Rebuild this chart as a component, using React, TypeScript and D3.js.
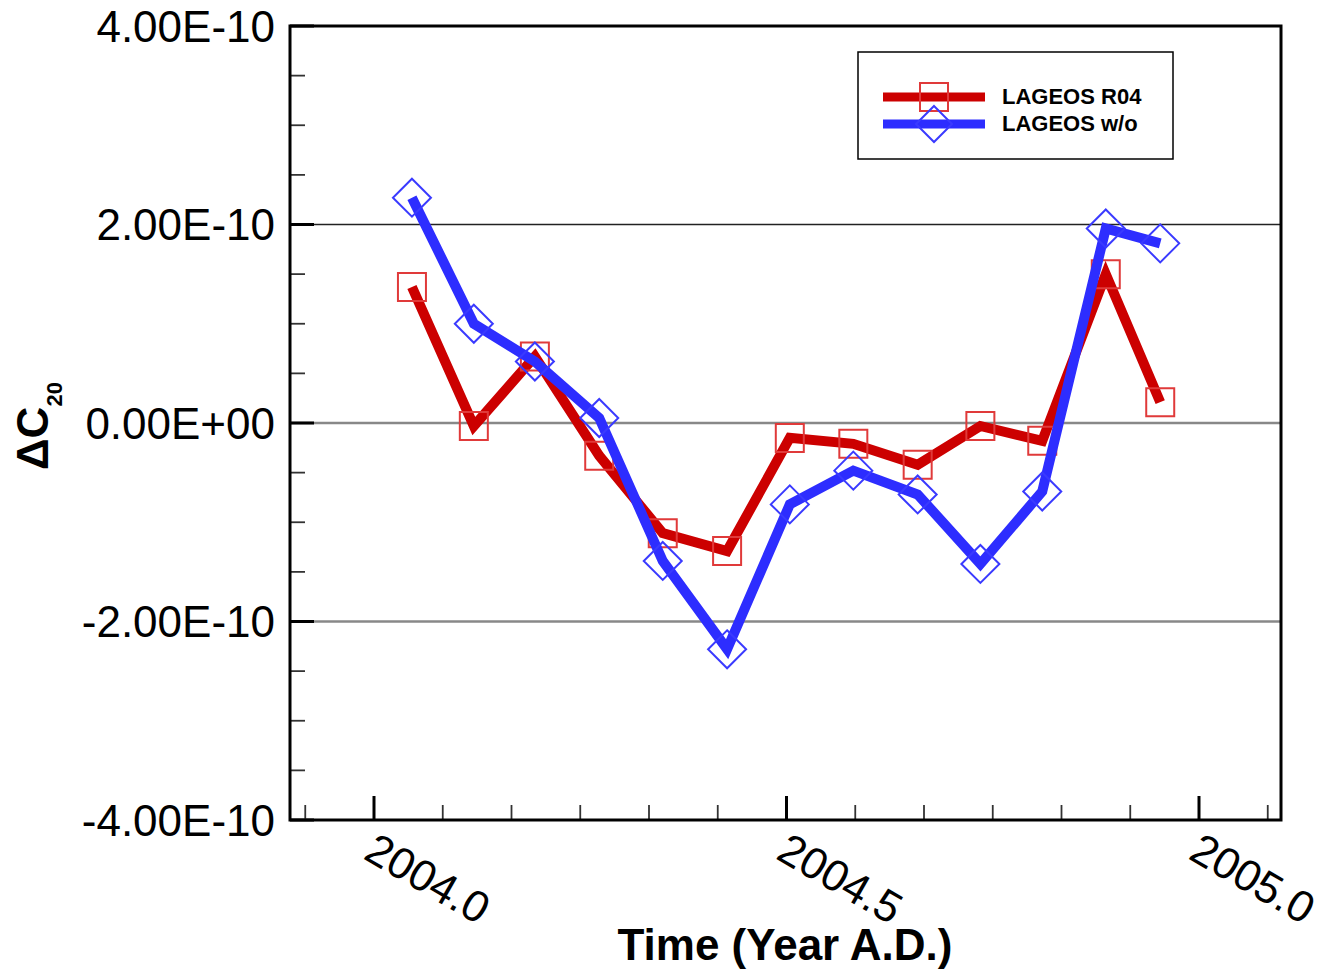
import React from "react";
import * as d3 from "d3";

const years = [2004.046, 2004.121, 2004.195, 2004.273, 2004.35, 2004.428, 2004.504, 2004.581, 2004.659, 2004.735, 2004.81, 2004.887, 2004.953];
const r04 = [1.37, -0.03, 0.67, -0.33, -1.11, -1.29, -0.15, -0.21, -0.42, -0.03, -0.18, 1.5, 0.21];
const wo = [2.27, 1.0, 0.62, 0.05, -1.39, -2.28, -0.82, -0.48, -0.72, -1.42, -0.69, 1.96, 1.81];
const yTicks = [4, 2, 0, -2, -4];
const yTickLabels = ["4.00E-10", "2.00E-10", "0.00E+00", "-2.00E-10", "-4.00E-10"];
const xTicks = [2004.0, 2004.5, 2005.0];
const xTickLabels = ["2004.0", "2004.5", "2005.0"];
const seriesNames = ["LAGEOS R04", "LAGEOS w/o"];

const FONT = "'Liberation Sans', Arial, Helvetica, sans-serif";
const RED = "#cc0000";
const BLUE = "#2d2dff";
const RED_M = "#e03a3a";
const BLUE_M = "#3a3aff";

export default function App() {
  const L = 290, R = 1281, T = 26, B = 820;
  const x = d3.scaleLinear().domain([2004.0, 2005.0]).range([374, 1199]);
  const y = d3.scaleLinear().domain([-4, 4]).range([B, T]);
  const line = d3.line<number>().x((_, i) => x(years[i])).y((d) => y(d));

  const minorX: number[] = [];
  for (let k = -1; k <= 13; k++) {
    const v = 2004 + k / 12;
    if (k % 6 === 0) continue;
    if (x(v) > L + 2 && x(v) < R - 2) minorX.push(v);
  }
  const minorY: number[] = [];
  for (let v = -3.5; v < 4; v += 0.5) {
    if (Math.abs(v % 2) > 1e-9) minorY.push(v);
  }

  const sq = (cx: number, cy: number, s: number) => `M${cx - s},${cy - s}h${2 * s}v${2 * s}h${-2 * s}Z`;
  const dm = (cx: number, cy: number, s: number) => `M${cx},${cy - s}L${cx + s},${cy}L${cx},${cy + s}L${cx - s},${cy}Z`;

  return (
    <svg width={1323} height={972} style={{ display: "block", position: "absolute", left: 0, top: 0, background: "#fff" }} fontFamily={FONT}>
      <rect x={0} y={0} width={1323} height={972} fill="#fff" />
      {/* gridlines */}
      <line x1={L} x2={R} y1={y(2)} y2={y(2)} stroke="#222" strokeWidth={1.5} />
      <line x1={L} x2={R} y1={y(0)} y2={y(0)} stroke="#888" strokeWidth={2.5} />
      <line x1={L} x2={R} y1={y(-2)} y2={y(-2)} stroke="#888" strokeWidth={2.5} />
      {/* y ticks */}
      {yTicks.map((v) => (
        <line key={"ym" + v} x1={L} x2={L + 24} y1={y(v)} y2={y(v)} stroke="#000" strokeWidth={3} />
      ))}
      {minorY.map((v) => (
        <line key={"yn" + v} x1={L} x2={L + 15} y1={y(v)} y2={y(v)} stroke="#333" strokeWidth={1.8} />
      ))}
      {/* x ticks */}
      {xTicks.map((v) => (
        <line key={"xm" + v} x1={x(v)} x2={x(v)} y1={B} y2={B - 24} stroke="#000" strokeWidth={3} />
      ))}
      {minorX.map((v) => (
        <line key={"xn" + v} x1={x(v)} x2={x(v)} y1={B} y2={B - 15} stroke="#333" strokeWidth={1.8} />
      ))}
      {/* frame */}
      <rect x={L} y={T} width={R - L} height={B - T} fill="none" stroke="#000" strokeWidth={3} />
      {/* y tick labels */}
      {yTicks.map((v, i) => (
        <text key={"yl" + v} x={275} y={y(v) + 15.5} textAnchor="end" fontSize={44} fill="#000">
          {yTickLabels[i]}
        </text>
      ))}
      {/* x tick labels */}
      {xTicks.map((v, i) => (
        <text key={"xl" + v} transform={`translate(${x(v) - 12},${858}) rotate(30)`} fontSize={44} fill="#000">
          {xTickLabels[i]}
        </text>
      ))}
      {/* axis titles */}
      <text x={785} y={960} textAnchor="middle" fontSize={44} fontWeight="bold" fill="#000">
        Time (Year A.D.)
      </text>
      <text transform={`translate(48,470) rotate(-90)`} fontSize={44} fontWeight="bold" fill="#000">
        ΔC
        <tspan fontSize={22} dy={14}>20</tspan>
      </text>
      {/* series */}
      <path d={line(r04) || ""} fill="none" stroke={RED} strokeWidth={10} strokeLinejoin="miter" strokeMiterlimit={3} />
      {r04.map((v, i) => (
        <path key={"rm" + i} d={sq(x(years[i]), y(v), 14)} fill="none" stroke={RED_M} strokeWidth={2} />
      ))}
      <path d={line(wo) || ""} fill="none" stroke={BLUE} strokeWidth={10} strokeLinejoin="miter" strokeMiterlimit={3} />
      {wo.map((v, i) => (
        <path key={"bm" + i} d={dm(x(years[i]), y(v), 19)} fill="none" stroke={BLUE_M} strokeWidth={2} />
      ))}
      {/* legend */}
      <rect x={858} y={52} width={315} height={107} fill="#fff" stroke="#000" strokeWidth={1.5} />
      <line x1={883} x2={985} y1={97} y2={97} stroke={RED} strokeWidth={9} />
      <path d={sq(934, 97, 14)} fill="none" stroke={RED_M} strokeWidth={2} />
      <line x1={883} x2={985} y1={124} y2={124} stroke={BLUE} strokeWidth={9} />
      <path d={dm(934, 124, 18)} fill="none" stroke={BLUE_M} strokeWidth={2} />
      <text x={1002} y={104} fontSize={22} fontWeight="bold" fill="#000">{seriesNames[0]}</text>
      <text x={1002} y={131} fontSize={22} fontWeight="bold" fill="#000">{seriesNames[1]}</text>
    </svg>
  );
}
